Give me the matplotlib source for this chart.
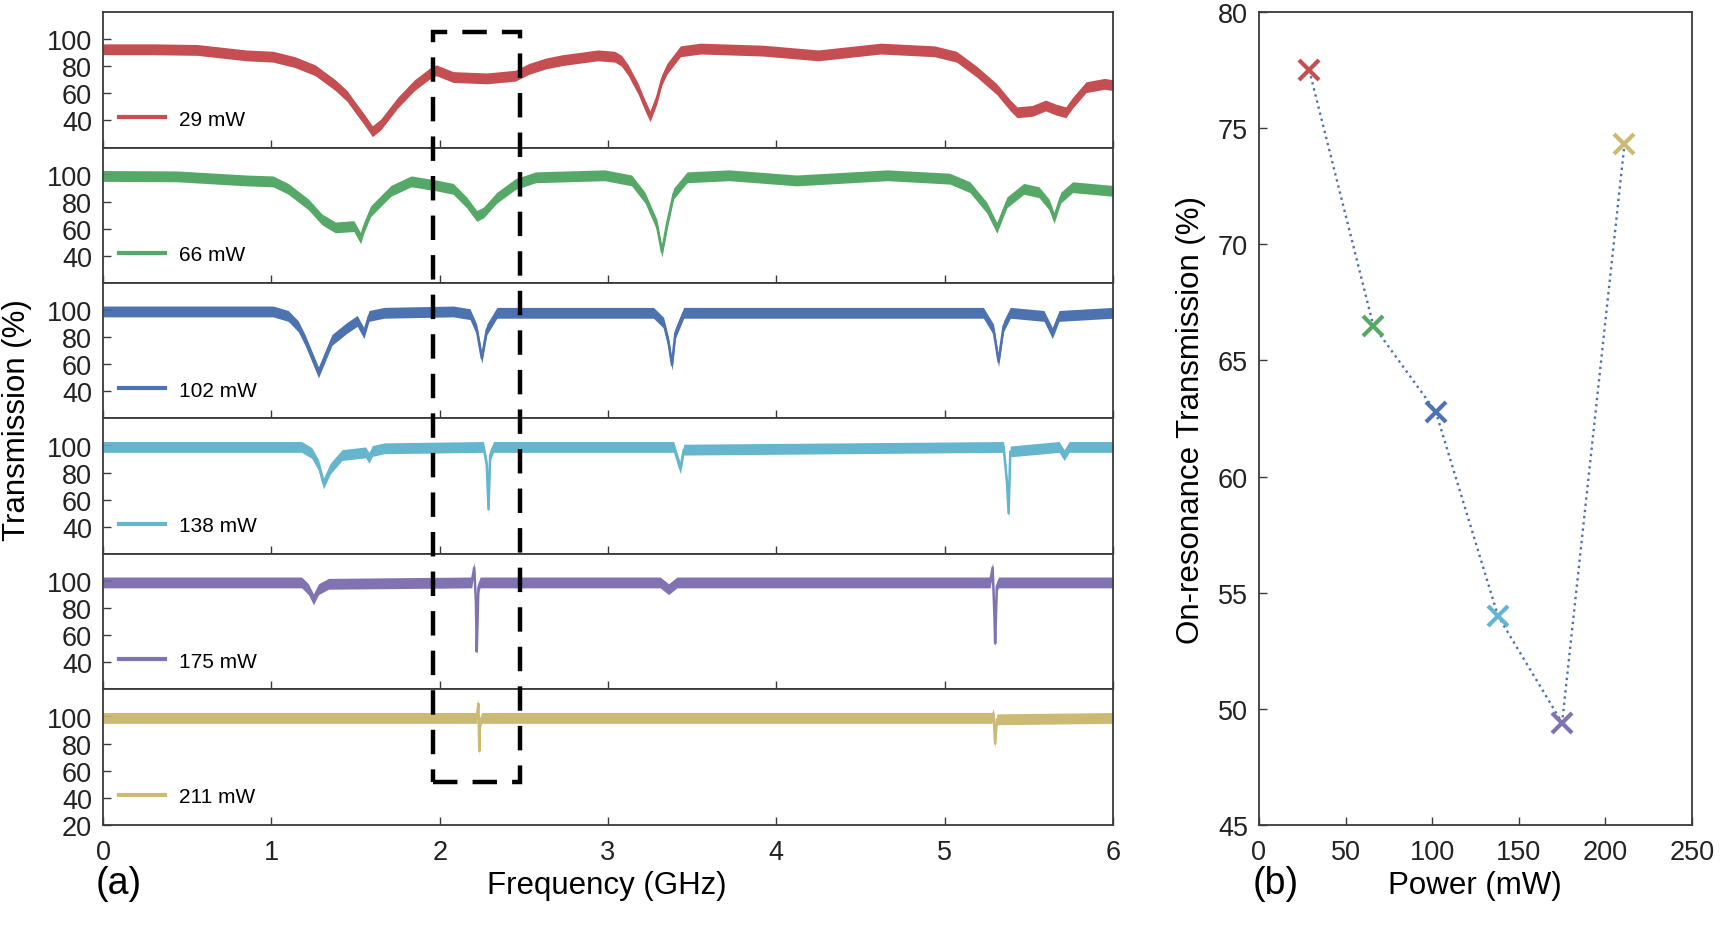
import matplotlib
matplotlib.use("Agg")
import matplotlib.pyplot as plt
from matplotlib.patches import Rectangle

plt.rcParams['font.family'] = ['Liberation Sans', 'DejaVu Sans']

# ---- data ---------------------------------------------------------------
labels = ["29 mW", "66 mW", "102 mW", "138 mW", "175 mW", "211 mW"]
colors = ["#C44E52", "#55A868", "#4C72B0", "#64B5CD", "#8172B2", "#CCB974"]

f29 = [0.00, 0.30, 0.56, 0.85, 1.01, 1.14, 1.26, 1.38, 1.45, 1.49, 1.55, 1.60, 1.65, 1.70, 1.75, 1.85,
       1.94, 1.98, 2.08, 2.28, 2.45, 2.53, 2.63, 2.73, 2.94, 3.04, 3.08, 3.12, 3.18, 3.22, 3.25, 3.29,
       3.32, 3.35, 3.43, 3.55, 3.92, 4.25, 4.62, 4.94, 5.07, 5.19, 5.31, 5.39, 5.43, 5.52, 5.60, 5.66,
       5.72, 5.76, 5.84, 5.95, 6.00]
t29 = [92.5, 92.5, 92, 88, 87, 83, 77, 66, 58, 51, 41, 32, 37, 45, 53, 66,
       74.5, 77, 72, 71, 73, 78, 82, 84.5, 88, 87, 84, 77, 63, 51, 43, 56,
       70, 78, 91, 93, 91.5, 88, 93, 91, 87, 76, 63, 51, 46, 47, 51, 48,
       46, 53, 64.5, 67, 66]

f66 = [0.00, 0.44, 0.85, 1.01, 1.10, 1.22, 1.30, 1.38, 1.49, 1.53, 1.55, 1.59, 1.71, 1.83, 1.98, 2.08,
       2.16, 2.22, 2.26, 2.34, 2.45, 2.57, 2.98, 3.14, 3.22, 3.29, 3.32, 3.35, 3.39, 3.47, 3.72, 4.12,
       4.66, 5.03, 5.15, 5.25, 5.31, 5.37, 5.47, 5.56, 5.62, 5.65, 5.69, 5.76, 6.00]
t66 = [99, 98.7, 95.7, 95, 89.5, 78, 67, 61, 62, 53, 61, 73, 88, 95, 92, 89.5,
       79.5, 69.5, 72, 83, 93, 98, 99.5, 95.7, 83, 63, 43, 63, 86, 98, 99.5, 95.7,
       99.5, 97, 90.7, 75.7, 60.7, 79.5, 89.5, 87, 78, 68, 83, 90.7, 88]

f102 = [0.00, 1.01, 1.10, 1.16, 1.20, 1.24, 1.28, 1.32, 1.36, 1.45, 1.51, 1.55, 1.58, 1.67, 2.08, 2.18,
        2.22, 2.25, 2.28, 2.34, 3.27, 3.33, 3.36, 3.38, 3.40, 3.45, 5.23, 5.29, 5.32, 5.35, 5.39, 5.59,
        5.64, 5.68, 6.00]
t102 = [99, 99, 95.7, 88, 78, 66, 54, 66, 78, 87, 92, 83, 95.7, 98, 99, 97,
        85.7, 64.5, 85.7, 98, 98, 90.7, 75.7, 59.5, 83, 98, 98, 85.7, 62, 88, 98, 95.7,
        83, 95.7, 98]

f138 = [0.00, 1.18, 1.24, 1.28, 1.31, 1.35, 1.42, 1.56, 1.58, 1.60, 1.67, 2.26, 2.28, 2.29, 2.30, 2.32,
        3.39, 3.43, 3.45, 5.35, 5.37, 5.38, 5.39, 5.68, 5.71, 5.74, 6.00]
t138 = [99, 99, 94.5, 85.7, 72, 83, 93, 95, 91, 96, 98, 99, 85.7, 53, 93, 99,
        99, 83, 97, 99, 73, 50, 95.7, 99, 93, 99, 99]

f175 = [0.00, 1.18, 1.22, 1.25, 1.28, 1.34, 2.19, 2.205, 2.215, 2.22, 2.23, 2.24,
        3.31, 3.36, 3.41, 5.27, 5.285, 5.295, 5.30, 5.31, 5.32, 6.00]
t175 = [99, 99, 94, 86.5, 94, 98, 99, 110, 85, 48, 95, 99,
        99, 94, 99, 99, 110, 77, 54, 96, 99, 99]

f211 = [0.00, 2.22, 2.23, 2.235, 2.24, 2.25, 5.28, 5.29, 5.30, 5.31, 6.00]
t211 = [99, 99, 109.5, 74.5, 96, 99, 99, 102, 80, 98, 99]

freqs = [f29, f66, f102, f138, f175, f211]
trans = [t29, t66, t102, t138, t175, t211]

power = [29, 66, 102, 138, 175, 211]
onres = [77.5, 66.5, 62.8, 54.0, 49.4, 74.3]

# ---- style ---------------------------------------------------------------
SPINE = "#3a3a3a"
TICK_FS = 19.5
LABEL_FS = 22.5
NOISE = 4.0  # half-width of the noise band, in % units


def style_axes(ax):
    for s in ax.spines.values():
        s.set_color(SPINE)
        s.set_linewidth(1.3)
    ax.tick_params(direction='in', length=6, width=1, color=SPINE,
                   labelsize=TICK_FS, pad=8, labelcolor='#222222')


fig = plt.figure(figsize=(17.32, 9.29), dpi=100)

# ---- (a) stacked spectra --------------------------------------------------
left, width = 0.0595, 0.5831
bottom, total_h = 0.1109, 0.8751
row_h = total_h / 6
axes = []
for i in range(6):
    ax = fig.add_axes([left, bottom + (5 - i) * row_h, width, row_h])
    f, t = freqs[i], trans[i]
    ax.fill_between(f, [v - NOISE for v in t], [v + NOISE for v in t],
                    color=colors[i], lw=0)
    ax.plot(f, t, color=colors[i], lw=1.8, label=labels[i])
    ax.set_xlim(0, 6)
    ax.set_ylim(20, 120)
    if i < 5:
        ax.set_yticks([40, 60, 80, 100])
        ax.set_xticklabels([])
    else:
        ax.set_yticks([20, 40, 60, 80, 100])
    ax.set_xticks([0, 1, 2, 3, 4, 5, 6])
    style_axes(ax)
    leg = ax.legend(loc='center left', bbox_to_anchor=(0.016, 0.21), frameon=False,
                    fontsize=15, handlelength=2.2, handletextpad=0.65,
                    borderaxespad=0, borderpad=0)
    for line in leg.get_lines():
        line.set_linewidth(3)
    axes.append(ax)

axes[-1].tick_params(axis='x', pad=10)

# dashed box spanning all rows
fig.canvas.draw()
to_fig = fig.transFigure.inverted()
x0, y1 = to_fig.transform(axes[0].transData.transform((1.96, 105.0)))
x1, y0 = to_fig.transform(axes[-1].transData.transform((2.48, 52)))
box = Rectangle((x0, y0), x1 - x0, y1 - y0, transform=fig.transFigure, fill=False,
                edgecolor='black', lw=3.2, linestyle=(0, (5.5, 3.4)), zorder=10)
fig.add_artist(box)

fig.text(0.0098, 0.548, "Transmission (%)", rotation=90, ha='center', va='center',
         fontsize=LABEL_FS)
fig.text(0.3505, 0.046, "Frequency (GHz)", ha='center', va='center', fontsize=LABEL_FS)
fig.text(0.0687, 0.048, "(a)", ha='center', va='center', fontsize=27)

# ---- (b) on-resonance transmission ----------------------------------------
axb = fig.add_axes([0.7269, bottom, 0.25, total_h])
axb.plot(power, onres, linestyle=':', color="#4C72B0", lw=1.7, zorder=1)
for p, v, c in zip(power, onres, colors):
    axb.plot(p, v, marker='x', color=c, ms=14, mew=3, zorder=3)
axb.set_xlim(0, 250)
axb.set_ylim(45, 80)
axb.set_xticks([0, 50, 100, 150, 200, 250])
axb.set_yticks([45, 50, 55, 60, 65, 70, 75, 80])
style_axes(axb)
axb.tick_params(axis='x', pad=10)

fig.text(0.6876, 0.548, "On-resonance Transmission (%)", rotation=90, ha='center',
         va='center', fontsize=LABEL_FS)
fig.text(0.8516, 0.046, "Power (mW)", ha='center', va='center', fontsize=LABEL_FS)
fig.text(0.7367, 0.048, "(b)", ha='center', va='center', fontsize=27)

fig.savefig("out.png", dpi=100)
